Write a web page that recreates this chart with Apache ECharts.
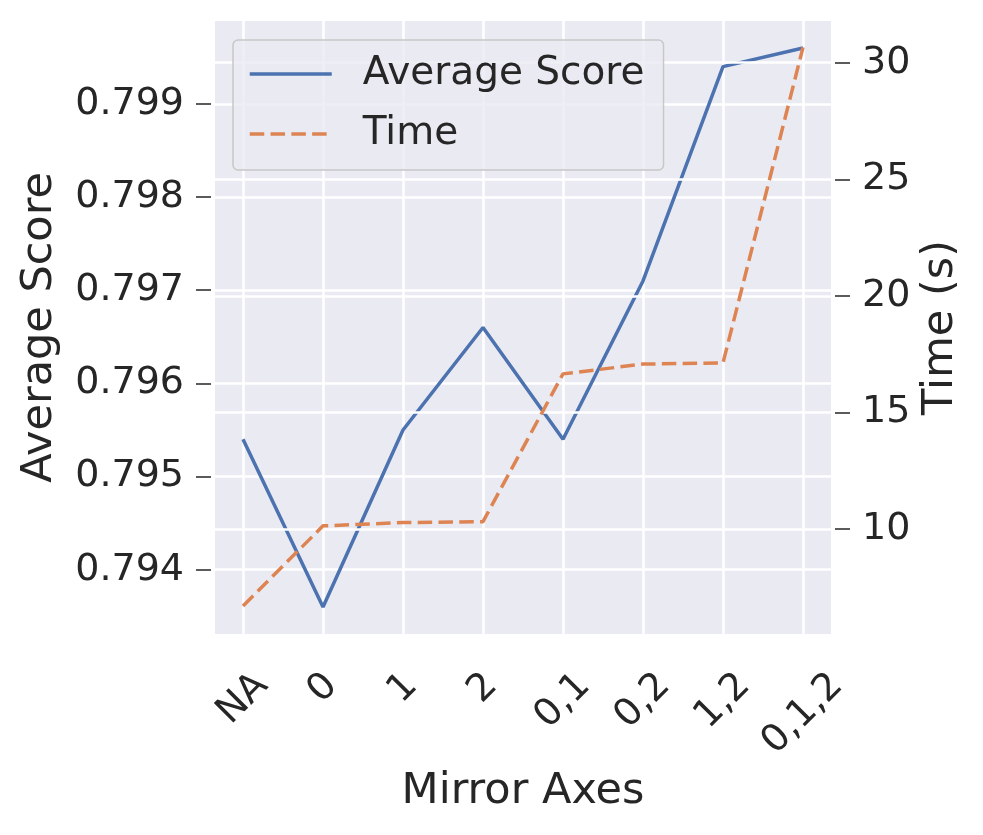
<!DOCTYPE html>
<html>
<head>
<meta charset="utf-8">
<script src="https://cdn.jsdelivr.net/npm/echarts@6/dist/echarts.min.js"></script>
<style>
  html, body { margin: 0; padding: 0; background: #fff; }
  #chart { width: 983px; height: 835px; }
</style>
</head>
<body>
<div id="chart"></div>
<script>
// mirror axes used for augmentation
const categories = ['NA', '0', '1', '2', '0,1', '0,2', '1,2', '0,1,2']
const avgScore = [0.7954, 0.7936, 0.7955, 0.7966, 0.7954, 0.7971, 0.7994, 0.7996]
const timeSec = [6.69, 10.13, 10.27, 10.31, 16.65, 17.07, 17.12, 30.66]
const scoreTicks = [0.794, 0.795, 0.796, 0.797, 0.798, 0.799]
const timeTicks = [10, 15, 20, 25, 30]

const textColor = '#262626'
const font = 'DejaVu Sans'
const tickFont = 38
const gridLine = { show: true, lineStyle: { color: '#ffffff', width: 2.5 } }

// matplotlib centres a rotated label's box under the tick; emulate with padding
const ctx = document.createElement('canvas').getContext('2d')
ctx.font = tickFont + 'px "' + font + '"'
const rich = {}
categories.forEach((c, i) => {
  const p = 0.5 * (ctx.measureText(c).width + 0.73 * tickFont)
  rich['p' + i] = { padding: [p, p, 0, 0], fontSize: tickFont, fontFamily: font, color: textColor }
})

const chart = echarts.init(document.getElementById('chart'))

chart.setOption({
  animation: false,
  textStyle: { fontFamily: font },
  grid: {
    left: 215,
    right: 152,
    top: 21,
    bottom: 201,
    show: true,
    backgroundColor: '#eaeaf2',
    borderWidth: 0,
    outerBoundsMode: 'none'
  },
  legend: {
    orient: 'vertical',
    left: 233,
    top: 40,
    z: 10,
    padding: [14, 19, 16, 15],
    itemWidth: 82,
    itemHeight: 14,
    itemGap: 20,
    itemStyle: { opacity: 0 },
    lineStyle: { width: 3.5 },
    backgroundColor: 'rgba(234,234,242,0.8)',
    borderColor: '#c8c8c8',
    borderWidth: 1.5,
    borderRadius: 5,
    textStyle: {
      fontSize: 39,
      color: textColor,
      fontFamily: font,
      lineHeight: 40,
      padding: [0, 0, 0, 26]
    },
    data: ['Average Score', 'Time']
  },
  xAxis: {
    type: 'value',
    min: -0.35,
    max: 7.35,
    name: 'Mirror Axes',
    nameLocation: 'middle',
    nameGap: 136,
    nameMoveOverlap: false,
    nameTextStyle: { fontSize: 43, color: textColor, fontFamily: font },
    axisLine: { show: false, onZero: false },
    axisTick: { show: false, customValues: categories.map((c, i) => i) },
    axisLabel: {
      customValues: categories.map((c, i) => i),
      rotate: 45,
      align: 'center',
      verticalAlign: 'middle',
      margin: 36,
      formatter: v => '{p' + v + '|' + categories[v] + '}',
      rich: rich
    },
    splitLine: gridLine
  },
  yAxis: [
    {
      type: 'value',
      position: 'left',
      min: 0.79331,
      max: 0.79989,
      offset: 4,
      name: 'Average Score',
      nameLocation: 'middle',
      nameRotate: 90,
      nameGap: 150,
      nameMoveOverlap: false,
      nameTextStyle: { fontSize: 43, color: textColor, fontFamily: font },
      axisLine: { show: false, onZero: false },
      axisTick: {
        show: true,
        customValues: scoreTicks,
        length: 15,
        lineStyle: { color: textColor, width: 1.5 }
      },
      axisLabel: {
        customValues: scoreTicks,
        formatter: v => v.toFixed(3),
        fontSize: tickFont,
        color: textColor,
        fontFamily: font,
        margin: 27
      },
      splitLine: gridLine
    },
    {
      type: 'value',
      position: 'right',
      min: 5.49,
      max: 31.79,
      offset: 4,
      z: 3,
      name: 'Time (s)',
      nameLocation: 'middle',
      nameRotate: 90,
      nameGap: 84,
      nameMoveOverlap: false,
      nameTextStyle: { fontSize: 43, color: textColor, fontFamily: font },
      axisLine: { show: false, onZero: false },
      axisTick: {
        show: true,
        customValues: timeTicks,
        length: 15,
        lineStyle: { color: textColor, width: 1.5 }
      },
      axisLabel: {
        customValues: timeTicks,
        fontSize: tickFont,
        color: textColor,
        fontFamily: font,
        margin: 27
      },
      splitLine: gridLine
    }
  ],
  series: [
    {
      name: 'Average Score',
      type: 'line',
      yAxisIndex: 0,
      z: 2,
      symbol: 'none',
      color: '#4c72b0',
      lineStyle: { color: '#4c72b0', width: 3.5 },
      data: avgScore.map((v, i) => [i, v])
    },
    {
      name: 'Time',
      type: 'line',
      yAxisIndex: 1,
      z: 4,
      symbol: 'none',
      color: '#dd8452',
      lineStyle: { color: '#dd8452', width: 3.5, type: [14.5, 6.3] },
      data: timeSec.map((v, i) => [i, v])
    }
  ]
})
</script>
</body>
</html>
